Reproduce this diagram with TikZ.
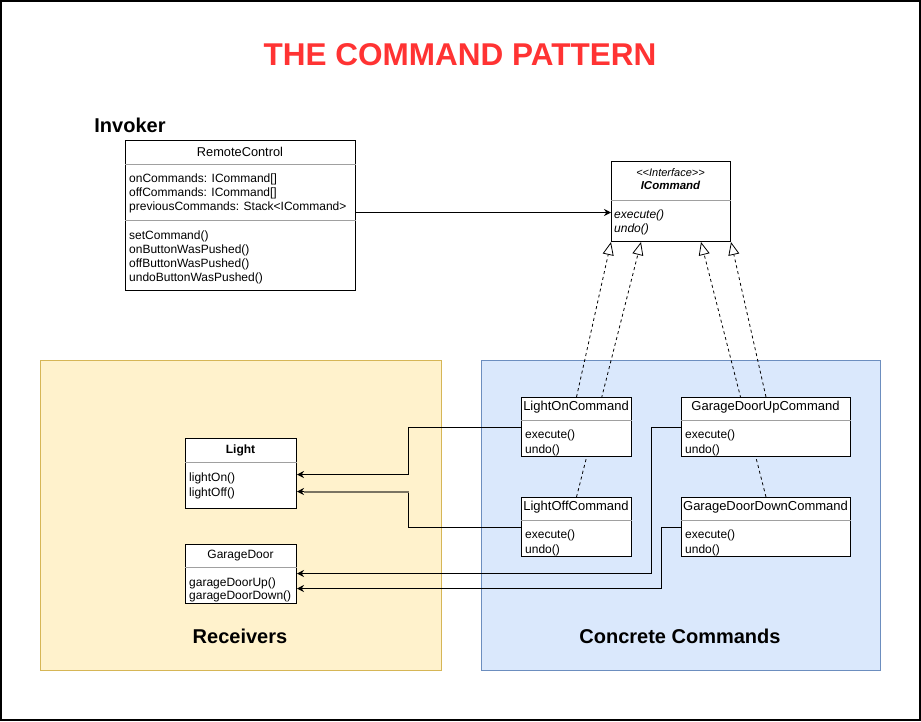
\documentclass[tikz,border=0pt]{standalone}
\usepackage{fontspec}
\setmainfont{Liberation Sans}
\usetikzlibrary{arrows.meta,calc}
\definecolor{titlered}{HTML}{FF3333}
\definecolor{recfill}{HTML}{FFF2CC}
\definecolor{recdraw}{HTML}{D6B656}
\definecolor{ccfill}{HTML}{DAE8FC}
\definecolor{ccdraw}{HTML}{6C8EBF}
\definecolor{sepgrey}{HTML}{A0A0A0}
\definecolor{hlgrey}{HTML}{7A7462}
\pgfdeclarelayer{bg}
\pgfdeclarelayer{lines}
\pgfsetlayers{bg,lines,main}
\begin{document}
\begin{tikzpicture}[x=1pt,y=-1pt,
  classbox/.style={draw=black, fill=white, line width=1pt, inner sep=0, anchor=north west},
  group/.style={line width=1pt, inner sep=0, anchor=north west},
  txt/.style={inner sep=0, font=\fontsize{12}{14}\selectfont},
  hdr/.style={inner sep=0, anchor=base, font=\fontsize{13}{15}\selectfont},
  sepline/.style={draw=sepgrey, line width=0.8pt},
  assoc/.style={draw=black, line width=1pt, -{Stealth[length=7pt,width=7pt]}},
  real/.style={draw=black, line width=0.8pt, dash pattern=on 3pt off 3pt, -{Triangle[open,length=13pt,width=11pt,line width=0.8pt]}},
  lbl/.style={inner sep=0, font=\fontsize{20}{24}\selectfont\bfseries}
]
\useasboundingbox (0,0) rectangle (921,721);
\draw[line width=1.5pt] (1,1) rectangle (920,720);

\node[inner sep=0, text=titlered, font=\fontsize{31.5}{36}\selectfont\bfseries] (title) at (460,54.5) {THE COMMAND PATTERN};
\node[lbl] (invoker) at (130,125.5) {Invoker};

\begin{pgfonlayer}{bg}
\node[group, draw=recdraw, fill=recfill, minimum width=401pt, minimum height=310pt] (recv) at (40,360) {};
\node[group, draw=ccdraw, fill=ccfill, minimum width=399pt, minimum height=310pt] (conc) at (481,360) {};
\end{pgfonlayer}
\node[lbl] (recvlbl) at (240,636) {Receivers};
\node[lbl] (conclbl) at (680,636) {Concrete Commands};

% class boxes
\node[classbox, minimum width=230pt, minimum height=150pt] (rc) at (125,140) {};
\node[classbox, minimum width=119pt, minimum height=80pt] (ic) at (611,161) {};
\node[classbox, minimum width=110pt, minimum height=59pt] (lon) at (521,397) {};
\node[classbox, minimum width=110pt, minimum height=59pt] (loff) at (521,497) {};
\node[classbox, minimum width=169pt, minimum height=59pt] (gdu) at (681,397) {};
\node[classbox, minimum width=169pt, minimum height=59pt] (gdd) at (681,497) {};
\node[classbox, minimum width=111pt, minimum height=70pt] (light) at (185,438) {};
\node[classbox, minimum width=111pt, minimum height=59pt] (gd) at (185,544) {};

% separators
\draw[sepline] (rc.west |- 0,164.5) -- (rc.east |- 0,164.5);
\draw[sepline] (rc.west |- 0,220.5) -- (rc.east |- 0,220.5);
\draw[sepline] (ic.west |- 0,200) -- (ic.east |- 0,200);
\draw[sepline] (lon.west |- 0,420) -- (lon.east |- 0,420);
\draw[sepline] (loff.west |- 0,520) -- (loff.east |- 0,520);
\draw[sepline] (gdu.west |- 0,420) -- (gdu.east |- 0,420);
\draw[sepline] (gdd.west |- 0,520) -- (gdd.east |- 0,520);
\draw[sepline] (light.west |- 0,462) -- (light.east |- 0,462);
\draw[sepline] (gd.west |- 0,567) -- (gd.east |- 0,567);

% RemoteControl texts
\node[hdr, font=\fontsize{12.8}{15}\selectfont] (rct) at (240,156.5) {RemoteControl};
\node[txt, anchor=base west] (rca1) at (129,182.8) {onCommands: ICommand[]};
\node[txt, anchor=base west] (rca2) at (129,196.8) {offCommands: ICommand[]};
\node[txt, anchor=base west] (rca3) at (129,210.8) {previousCommands: Stack<ICommand>};
\node[txt, anchor=base west] (rcm1) at (129,239.3) {setCommand()};
\node[txt, anchor=base west] (rcm2) at (129,253.3) {onButtonWasPushed()};
\node[txt, anchor=base west] (rcm3) at (129,267.3) {offButtonWasPushed()};
\node[txt, anchor=base west] (rcm4) at (129,281.3) {undoButtonWasPushed()};

% ICommand texts
\node[inner sep=0, anchor=base, font=\fontsize{11}{12}\selectfont\itshape] (ict0) at (670.5,176) {<{}<Interface>{}>};
\node[txt, anchor=base, font=\fontsize{11.5}{14}\selectfont\bfseries\itshape] (ict) at (670.5,189.5) {ICommand};
\node[txt, anchor=base west, font=\fontsize{12}{14}\selectfont\itshape] (icm1) at (614,218.3) {execute()};
\node[txt, anchor=base west, font=\fontsize{12}{14}\selectfont\itshape] (icm2) at (614,232.3) {undo()};

% command texts
\node[hdr] (lont) at (576,410.5) {LightOnCommand};
\node[txt, anchor=base west] (lonm1) at (525,438.5) {execute()};
\node[txt, anchor=base west] (lonm2) at (525,453.5) {undo()};
\node[hdr] (lofft) at (576,510.5) {LightOffCommand};
\node[txt, anchor=base west] (loffm1) at (525,538.5) {execute()};
\node[txt, anchor=base west] (loffm2) at (525,553.5) {undo()};
\node[hdr] (gdut) at (765.5,410.5) {GarageDoorUpCommand};
\node[txt, anchor=base west] (gdum1) at (685,438.5) {execute()};
\node[txt, anchor=base west] (gdum2) at (685,453.5) {undo()};
\node[hdr] (gddt) at (765.5,510.5) {GarageDoorDownCommand};
\node[txt, anchor=base west] (gddm1) at (685,538.5) {execute()};
\node[txt, anchor=base west] (gddm2) at (685,553.5) {undo()};

% receiver texts
\node[txt, anchor=base, font=\fontsize{12}{14}\selectfont\bfseries] (lightt) at (240.5,453.3) {Light};
\node[txt, anchor=base west] (lightm1) at (189,481.5) {lightOn()};
\node[txt, anchor=base west] (lightm2) at (189,496) {lightOff()};
\node[txt, anchor=base] (gdt) at (240.5,558.3) {GarageDoor};
\node[txt, anchor=base west] (gdm1) at (189,586) {garageDoorUp()};
\node[txt, anchor=base west] (gdm2) at (189,599.5) {garageDoorDown()};

% realization (dashed) lines, behind boxes
\begin{pgfonlayer}{lines}
\draw[real] (lon.north) -- ($(ic.south)+(-60,0)$);
\draw[real] (loff.north) -- ($(ic.south)+(-30,0)$);
\draw[real] (gdd.north) -- ($(ic.south)+(30,0)$);
\draw[real] (gdu.north) -- ($(ic.south)+(60,0)$);
\end{pgfonlayer}

% associations
\draw[assoc] (rc.east |- 0,212.5) -- (ic.west |- 0,212.5);
\draw[assoc] (lon.west) -- ++(-113,0) |- ($(light.east)+(0,1)$);
\draw[assoc] (loff.west) -- ++(-113,0) |- ($(light.east)+(0,18)$);
\draw[hlgrey, line width=2pt] ($(light.east)+(7,18)$) -- ($(light.east)+(112,18)$);
\draw[assoc] (gdu.west) -- ++(-30,0) |- ($(gd.east)+(0,-0.5)$);
\draw[assoc] (gdd.west) -- ++(-20,0) |- ($(gd.east)+(0,14.5)$);
\end{tikzpicture}
\end{document}
